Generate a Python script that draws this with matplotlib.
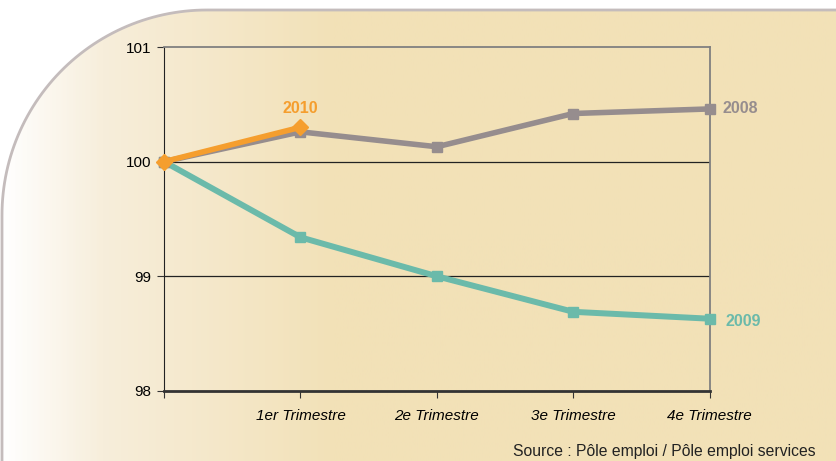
import matplotlib.pyplot as plt
import numpy as np
from matplotlib.path import Path
from matplotlib.patches import PathPatch
from matplotlib.colors import LinearSegmentedColormap

plt.rcParams['font.family'] = ['Liberation Sans', 'DejaVu Sans']

# data
quarters = ['', '1er Trimestre', '2e Trimestre', '3e Trimestre', '4e Trimestre']
y2008 = [100, 100.26, 100.13, 100.42, 100.46]
y2009 = [100, 99.34, 99.0, 98.69, 98.63]
y2010 = [100, 100.30]

c2008 = '#968d8e'
c2009 = '#6bbaaa'
c2010 = '#f59e2e'
beige = '#f2e1b7'

fig = plt.figure(figsize=(8.37, 4.61), dpi=100)
fig.patch.set_facecolor('white')

# background panel, rounded top-left corner (pixel coords)
bg = fig.add_axes([0, 0, 1, 1])
bg.set_xlim(0, 837)
bg.set_ylim(461, 0)
bg.axis('off')
r = 205
x0, y0 = 2, 10
t = np.linspace(np.pi, 1.5 * np.pi, 60)
arc_x = x0 + r + r * np.cos(t)
arc_y = y0 + r + r * np.sin(t)
verts = [(x0, 470)] + list(zip(arc_x, arc_y)) + [(850, y0), (850, 470), (x0, 470)]
codes = [Path.MOVETO] + [Path.LINETO] * (len(verts) - 2) + [Path.CLOSEPOLY]
panel = PathPatch(Path(verts, codes), facecolor='none', edgecolor='#c4bcbc', lw=2)
bg.add_patch(panel)
grad = np.linspace(0, 1, 400).reshape(1, -1)
cmap = LinearSegmentedColormap.from_list('bg', [(0, '#ffffff'), (0.12, '#f7eedb'), (0.4, beige), (1, beige)])
im = bg.imshow(grad, extent=[0, 837, 470, 0], aspect='auto', cmap=cmap, zorder=0)
im.set_clip_path(panel)

ax = fig.add_axes([0.196, 0.152, 0.652, 0.746])
ax.patch.set_alpha(0)
x = np.arange(len(quarters))

ax.set_xlim(0, 4)
ax.set_ylim(98, 101)
ax.set_yticks([98, 99, 100, 101])
ax.set_yticklabels(['98', '99', '100', '101'], fontsize=11)
ax.set_xticks(x)
ax.set_xticklabels(quarters, fontsize=11, style='italic')
ax.tick_params(axis='x', length=5, pad=8, color='#333333')
ax.tick_params(axis='y', length=5, pad=4, color='#333333')
for yv in [99, 100]:
    ax.axhline(yv, color='#222222', lw=0.9, zorder=1)

ax.spines['left'].set_color('#222222')
ax.spines['bottom'].set_color('#333333')
ax.spines['bottom'].set_linewidth(2)
ax.spines['top'].set_color('#808080')
ax.spines['right'].set_color('#808080')
ax.spines['top'].set_linewidth(1.3)
ax.spines['right'].set_linewidth(1.3)

ax.plot(x, y2009, color=c2009, lw=4.3, marker='s', ms=7, clip_on=False, zorder=3)
ax.plot(x, y2008, color=c2008, lw=4, marker='s', ms=7, clip_on=False, zorder=4)
ax.plot(x[:2], y2010, color=c2010, lw=4, marker='D', ms=8, clip_on=False, zorder=5)

ax.annotate('2010', (1, y2010[1]), xytext=(0, 8), textcoords='offset points',
            ha='center', va='bottom', color=c2010, fontsize=11.5, fontweight='bold')
ax.annotate('2008', (4, y2008[4]), xytext=(9, 0), textcoords='offset points',
            ha='left', va='center', color=c2008, fontsize=11.5, fontweight='bold')
ax.annotate('2009', (4, y2009[4]), xytext=(11, -2), textcoords='offset points',
            ha='left', va='center', color=c2009, fontsize=11.5, fontweight='bold')

fig.text(0.975, 0.02, 'Source : Pôle emploi / Pôle emploi services', ha='right',
         va='center', fontsize=11.3, color='#222222')

fig.savefig('out.png', dpi=100)
